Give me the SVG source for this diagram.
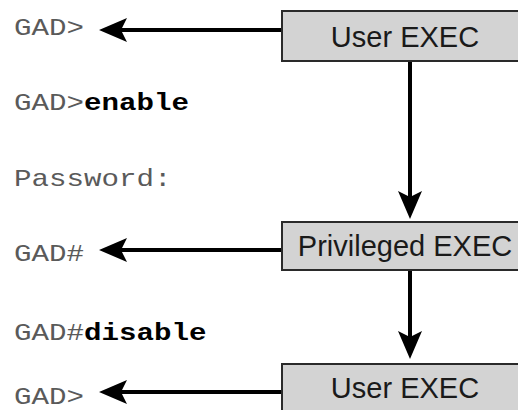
<svg xmlns="http://www.w3.org/2000/svg" width="518" height="410" viewBox="0 0 518 410">
<defs>
<marker id="ah" markerUnits="userSpaceOnUse" markerWidth="30" markerHeight="26" refX="18" refY="13" orient="auto" viewBox="0 0 30 26">
<path d="M0,1 L28,13 L0,25 L6,13 Z" fill="#000"/>
</marker>
</defs>
<style>
.box{fill:#d3d3d3;stroke:#2a2a2a;stroke-width:2}
.bl{font-family:"Liberation Sans",Arial,sans-serif;font-size:29px;fill:#1a1a1a;text-anchor:middle}
.mono{font-family:"Liberation Mono","Courier New",monospace;font-size:24px;fill:#5a5a5a}
.b{font-weight:bold;fill:#000}
.conn{stroke:#000;stroke-width:4;fill:none;marker-end:url(#ah)}
</style>
<rect width="518" height="410" fill="#fff"/>
<g id="terminal">
<text class="mono" transform="translate(14,35) scale(1.215,1)">GAD&gt;</text>
<text class="mono" transform="translate(14,110) scale(1.215,1)">GAD&gt;<tspan class="b">enable</tspan></text>
<text class="mono" transform="translate(14,186) scale(1.215,1)">Password:</text>
<text class="mono" transform="translate(14,261) scale(1.215,1)">GAD#</text>
<text class="mono" transform="translate(14,340) scale(1.215,1)">GAD#<tspan class="b">disable</tspan></text>
<text class="mono" transform="translate(14,404) scale(1.215,1)">GAD&gt;</text>
</g>
<g id="connectors">
<line class="conn" x1="282" y1="30" x2="109" y2="30"/>
<line class="conn" x1="410" y1="61" x2="410" y2="209"/>
<line class="conn" x1="282" y1="250" x2="109" y2="250"/>
<line class="conn" x1="410" y1="270" x2="410" y2="349"/>
<line class="conn" x1="282" y1="392" x2="109" y2="392"/>
</g>
<g id="user-exec-1">
<rect class="box" x="282" y="11" width="246" height="50"/>
<text class="bl" x="405" y="47">User EXEC</text>
</g>
<g id="privileged-exec">
<rect class="box" x="282" y="222" width="246" height="48"/>
<text class="bl" x="405" y="256">Privileged EXEC</text>
</g>
<g id="user-exec-2">
<rect class="box" x="282" y="364" width="246" height="60"/>
<text class="bl" x="405" y="398">User EXEC</text>
</g>
</svg>
